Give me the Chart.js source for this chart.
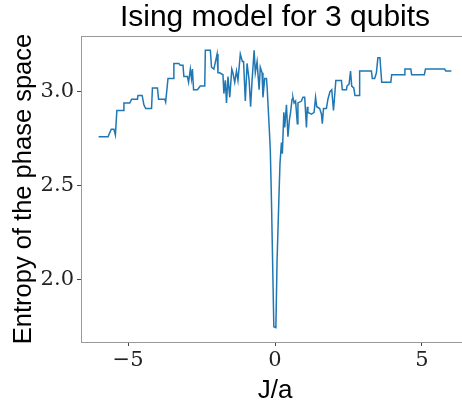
<!DOCTYPE html>
<html>
<head>
<meta charset="utf-8">
<script src="https://cdn.jsdelivr.net/npm/chart.js@4/dist/chart.umd.min.js"></script>
<style>
  html, body { margin: 0; padding: 0; background: #fff; }
  #wrap { width: 462px; height: 404px; overflow: hidden; position: relative; }
  canvas { display: block; }
</style>
</head>
<body>
<div id="wrap"><canvas id="chart" width="480" height="404" style="width:480px;height:404px"></canvas></div>
<script>
// J/a values (x) and entropy values (y)
const jOverA = [-6.00, -5.68, -5.57, -5.48, -5.43, -5.38, -5.17, -5.14, -4.94, -4.88,
  -4.68, -4.66, -4.52, -4.46, -4.40, -4.20, -4.17, -4.00, -3.96, -3.75,
  -3.72, -3.64, -3.47, -3.44, -3.27, -3.22, -3.13, -3.10, -2.98, -2.94,
  -2.88, -2.84, -2.81, -2.77, -2.64, -2.54, -2.39, -2.37, -2.20, -2.16,
  -2.08, -1.97, -1.94, -1.88, -1.77, -1.74, -1.69, -1.65, -1.60, -1.54,
  -1.47, -1.43, -1.37, -1.31, -1.26, -1.18, -1.11, -1.07, -1.01, -0.95,
  -0.88, -0.83, -0.78, -0.71, -0.67, -0.61, -0.54, -0.50, -0.44, -0.41,
  -0.35, -0.29, -0.27, -0.20, -0.16, -0.12, -0.04, 0.03, 0.07, 0.13,
  0.17, 0.22, 0.25, 0.30, 0.33, 0.39, 0.44, 0.49, 0.53, 0.58,
  0.61, 0.65, 0.70, 0.76, 0.78, 0.90, 0.95, 1.01, 1.07, 1.10,
  1.12, 1.24, 1.33, 1.38, 1.42, 1.52, 1.58, 1.61, 1.65, 1.75,
  1.80, 1.87, 1.93, 1.99, 2.07, 2.26, 2.29, 2.43, 2.45, 2.52,
  2.57, 2.61, 2.68, 2.72, 2.86, 2.88, 3.28, 3.31, 3.39, 3.45,
  3.50, 3.57, 3.63, 3.94, 3.97, 4.39, 4.42, 4.62, 4.65, 5.08,
  5.12, 5.77, 5.81, 6.00];
const entropy = [2.76, 2.76, 2.80, 2.80, 2.77, 2.90, 2.90, 2.94, 2.94, 2.96,
  2.96, 2.98, 2.98, 2.93, 2.91, 2.91, 3.02, 3.02, 2.96, 2.96,
  2.945, 3.07, 3.07, 3.15, 3.15, 3.14, 3.14, 3.08, 3.08, 3.05,
  3.12, 3.07, 3.12, 3.01, 3.01, 3.03, 3.03, 3.22, 3.22, 3.13,
  3.12, 3.20, 3.10, 3.10, 3.09, 2.99, 3.06, 2.94, 3.08, 2.97,
  3.12, 3.10, 3.05, 3.11, 3.06, 3.20, 3.16, 3.16, 2.95, 3.15,
  3.06, 2.92, 3.06, 3.22, 3.10, 3.16, 3.01, 3.13, 3.10, 2.97,
  3.07, 3.07, 3.03, 2.82, 2.69, 2.42, 1.75, 1.745, 2.10, 2.42,
  2.62, 2.73, 2.67, 2.89, 2.81, 2.93, 2.76, 2.85, 2.89, 2.96,
  2.97, 2.94, 2.95, 2.83, 2.94, 2.95, 2.97, 2.97, 2.81, 2.92,
  2.89, 2.88, 2.89, 2.97, 2.92, 2.91, 2.88, 2.83, 2.91, 2.91,
  2.96, 3.00, 3.01, 2.90, 3.06, 3.06, 3.01, 3.01, 3.03, 3.04,
  3.11, 3.03, 3.02, 2.98, 2.98, 3.11, 3.11, 3.07, 3.07, 3.10,
  3.18, 3.18, 3.05, 3.05, 3.09, 3.09, 3.12, 3.12, 3.09, 3.09,
  3.12, 3.12, 3.11, 3.11];
const xTicks = [-5, 0, 5];
const yTicks = [2.0, 2.5, 3.0];

const points = jOverA.map((x, i) => ({ x: x, y: entropy[i] }));

// draws the top and right spines (matplotlib-style box)
const frame = {
  id: 'frame',
  afterDraw(chart) {
    const { ctx, chartArea } = chart;
    ctx.save();
    ctx.strokeStyle = '#999';
    ctx.lineWidth = 1;
    ctx.beginPath();
    ctx.moveTo(chartArea.left, chartArea.top + 0.5);
    ctx.lineTo(chartArea.right, chartArea.top + 0.5);
    ctx.moveTo(chartArea.right - 0.5, chartArea.top);
    ctx.lineTo(chartArea.right - 0.5, chartArea.bottom);
    ctx.stroke();
    ctx.restore();
  }
};

new Chart(document.getElementById('chart').getContext('2d'), {
  type: 'line',
  data: {
    datasets: [{
      data: points,
      borderColor: '#1f77b4',
      borderWidth: 1.5,
      pointRadius: 0,
      tension: 0,
      fill: false
    }]
  },
  options: {
    responsive: false,
    animation: false,
    devicePixelRatio: 1,
    layout: { padding: { left: 0, right: 11, top: 0, bottom: 0 } },
    plugins: {
      legend: { display: false },
      tooltip: { enabled: false },
      title: {
        display: true,
        fullSize: false,
        text: 'Ising model for 3 qubits',
        color: '#000',
        font: { family: 'Liberation Sans', size: 30, weight: 'normal', lineHeight: 1.2 },
        padding: { top: 0, bottom: 0 }
      }
    },
    scales: {
      x: {
        type: 'linear',
        min: -6.6,
        max: 6.6,
        afterBuildTicks: axis => { axis.ticks = xTicks.map(v => ({ value: v })); },
        afterFit: scale => { scale.height = 62; },
        grid: { display: true, drawOnChartArea: false, drawTicks: true, tickLength: 4, tickColor: '#444' },
        border: { display: true, color: '#999', width: 1 },
        ticks: {
          padding: 2,
          color: '#222',
          font: { family: 'DejaVu Serif', size: 21 },
          callback: v => (v < 0 ? '\u2212' + Math.abs(v) : String(v))
        },
        title: {
          display: true,
          text: 'J/a',
          color: '#000',
          font: { family: 'Liberation Sans', size: 26, lineHeight: 1 },
          padding: { top: 0, bottom: 0 }
        }
      },
      y: {
        min: 1.669,
        max: 3.296,
        afterBuildTicks: axis => { axis.ticks = yTicks.map(v => ({ value: v })); },
        afterFit: scale => { scale.width = 81; },
        grid: { display: true, drawOnChartArea: false, drawTicks: true, tickLength: 4, tickColor: '#444' },
        border: { display: true, color: '#999', width: 1 },
        ticks: {
          padding: 3,
          color: '#222',
          font: { family: 'DejaVu Serif', size: 21 },
          callback: v => v.toFixed(1)
        },
        title: {
          display: true,
          text: 'Entropy of the phase space',
          color: '#000',
          font: { family: 'Liberation Sans', size: 25.5, lineHeight: 1 },
          padding: { top: 11, bottom: 0 }
        }
      }
    }
  },
  plugins: [frame]
});
</script>
</body>
</html>
